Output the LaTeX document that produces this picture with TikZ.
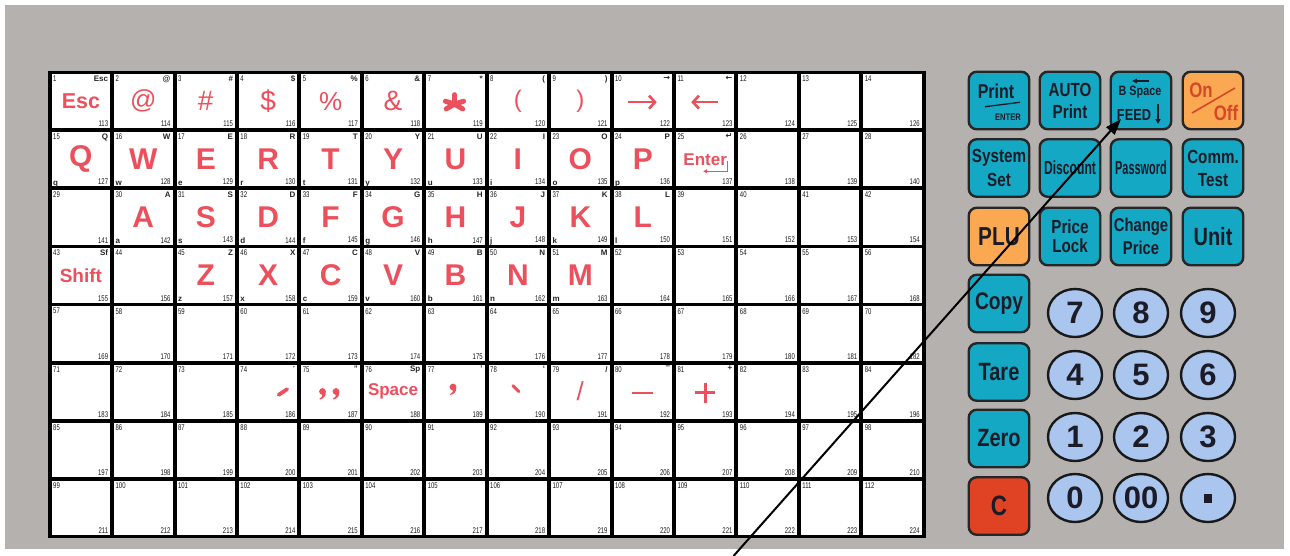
\documentclass[tikz,border=0pt]{standalone}
\usepackage{fontspec}
\usepackage{graphicx}
\setmainfont{Liberation Sans}
\newfontfamily\numf{Liberation Sans}[FakeStretch=0.72]
\newfontfamily\keyf{Liberation Sans}[FakeStretch=0.8]
\newfontfamily\dvs{DejaVu Sans}
\usetikzlibrary{arrows.meta,shapes.geometric}
\definecolor{panel}{RGB}{181,177,174}
\definecolor{kteal}{RGB}{20,168,196}
\definecolor{korange}{RGB}{250,168,82}
\definecolor{kred}{RGB}{224,66,36}
\definecolor{kblue}{RGB}{170,198,238}
\definecolor{lred}{RGB}{236,80,92}
\definecolor{ink}{RGB}{28,28,40}
\definecolor{onred}{RGB}{215,70,40}
\newcommand\kcell[4]{%
 \node[labtxt,anchor=north east] (t#1) at ([shift={(-2,1.8)}]c#1.north east) {#2};
 \node[labtxt,anchor=base west] (l#1) at ([shift={(1.5,-1.5)}]c#1.south west) {#3};
 \node[bigtxt] (b#1) at (c#1) {#4};}
\newcommand\redcomma[2]{%
 \fill[lred] (#1,#2) circle (3.4);
 \fill[lred] (#1+3.3,#2+0.5) .. controls (#1+3.5,#2+5) and (#1+1,#2+7) .. (#1-2.6,#2+8) -- (#1-2.9,#2+7) .. controls (#1-0.5,#2+5.8) and (#1+0.2,#2+4.6) .. (#1-0.2,#2+3.3) -- cycle;}
\begin{document}
\begin{tikzpicture}[x=1pt,y=-1pt,
 cellbox/.style={fill=white,draw=none,minimum width=58.4pt,minimum height=54.3pt,inner sep=0pt},
 numtxt/.style={font=\numf\fontsize{8.3}{8.3}\selectfont,text=black!90,inner sep=0pt},
 labtxt/.style={font=\bfseries\fontsize{8}{8}\selectfont,text=black!85,inner sep=0pt},
 bigtxt/.style={font=\bfseries\fontsize{30}{30}\selectfont,text=lred,inner sep=0pt},
 keybox/.style={draw=black!85,line width=2.4pt,rounded corners=8pt,fill=kteal,minimum width=60.5pt,minimum height=57.5pt,inner sep=0pt,align=center,text=ink,font=\keyf\bfseries\fontsize{19}{22}\selectfont},
 keytxt/.style={inner sep=0pt,text=ink},
 numkey/.style={ellipse,draw=black!90,line width=2.4pt,fill=kblue,minimum width=54pt,minimum height=48pt,inner sep=0pt,text=ink,font=\bfseries\fontsize{31}{31}\selectfont}]
\useasboundingbox (0,0) rectangle (1290,555);
\fill[white] (0,0) rectangle (1290,555);
\fill[panel] (5,5) rectangle (1284,549);
\fill[black] (47.8,70.5) rectangle (925.5,538.3);
\foreach \r in {0,...,7}{\foreach \c in {0,...,13}{
 \pgfmathtruncatemacro\n{14*\r+\c+1}
 \pgfmathtruncatemacro\m{\n+112}
 \node[cellbox] (c\n) at ({80.9+62.43*\c},{101.15+58.1*\r}) {};
 \node[numtxt,anchor=north west] (n\n) at ([shift={(1.5,1.8)}]c\n.north west) {\n};
 \node[numtxt,anchor=south east] (m\n) at ([shift={(-2,-1.5)}]c\n.south east) {\m};
}}
% row 1
\kcell{1}{Esc}{}{\fontsize{21.5}{21.5}\selectfont Esc}
\kcell{2}{@}{}{\mdseries\fontsize{26}{26}\selectfont @}
\kcell{3}{\#}{}{\mdseries\fontsize{28}{28}\selectfont \#}
\kcell{4}{\$}{}{\mdseries\fontsize{28}{28}\selectfont \$}
\kcell{5}{\%}{}{\mdseries\fontsize{26}{26}\selectfont \%}
\kcell{6}{\&}{}{\mdseries\fontsize{28}{28}\selectfont \&}
\kcell{7}{*}{}{}
\coordinate (astc) at ([shift={(-1,3)}]c7.center);
\foreach \a in {-90,-18,-162,30,150}{
 \draw[lred,line width=5pt,line cap=round] (astc) -- ++(\a:9.5);}
\kcell{8}{(}{}{\mdseries\fontsize{24}{24}\selectfont (}
\kcell{9}{)}{}{\mdseries\fontsize{24}{24}\selectfont )}
\kcell{10}{\dvs →}{}{}
\kcell{11}{\dvs ←}{}{}
\draw[lred,line width=2.6pt,-{Straight Barb[length=6pt,width=13pt]}] ([shift={(-15,1)}]c10.center) -- ([shift={(14,1)}]c10.center);
\draw[lred,line width=2.6pt,-{Straight Barb[length=6pt,width=13pt]}] ([shift={(13,1)}]c11.center) -- ([shift={(-14,1)}]c11.center);
% row 2
\kcell{15}{Q}{q}{Q}
\kcell{16}{W}{w}{W}
\kcell{17}{E}{e}{E}
\kcell{18}{R}{r}{R}
\kcell{19}{T}{t}{T}
\kcell{20}{Y}{y}{Y}
\kcell{21}{U}{u}{U}
\kcell{22}{I}{i}{I}
\kcell{23}{O}{o}{O}
\kcell{24}{P}{p}{P}
\kcell{25}{\dvs ↵}{}{\fontsize{17}{17}\selectfont Enter}
\draw[lred,line width=1.2pt,-{Triangle[length=4pt,width=4pt]}] ([shift={(22,2)}]c25.center) -- ([shift={(22,12)}]c25.center) -- ([shift={(-2,12)}]c25.center);
% row 3
\kcell{30}{A}{a}{A}
\kcell{31}{S}{s}{S}
\kcell{32}{D}{d}{D}
\kcell{33}{F}{f}{F}
\kcell{34}{G}{g}{G}
\kcell{35}{H}{h}{H}
\kcell{36}{J}{j}{J}
\kcell{37}{K}{k}{K}
\kcell{38}{L}{l}{L}
% row 4
\kcell{43}{Sf}{}{\fontsize{19}{19}\selectfont Shift}
\kcell{45}{Z}{z}{Z}
\kcell{46}{X}{x}{X}
\kcell{47}{C}{c}{C}
\kcell{48}{V}{v}{V}
\kcell{49}{B}{b}{B}
\kcell{50}{N}{n}{N}
\kcell{51}{M}{m}{M}
% row 6
\kcell{74}{´}{}{}
\kcell{75}{”}{}{}
\kcell{76}{Sp}{}{\fontsize{17}{17}\selectfont Space}
\kcell{77}{’}{}{}
\kcell{78}{\char"60}{}{}
\kcell{79}{/}{}{\mdseries\fontsize{26}{26}\selectfont /}
\kcell{80}{–}{}{}
\kcell{81}{+}{}{}
\draw[lred,line width=3.8pt,line cap=round] ([shift={(10.5,3.2)}]c74.center) -- ([shift={(19,-2.5)}]c74.center);
\redcomma{322.5}{391.5}
\redcomma{336}{391.5}
\redcomma{453}{387}
\draw[lred,line width=3pt,line cap=round] ([shift={(-5,-6)}]c78.center) -- ([shift={(1,0)}]c78.center);
\draw[lred,line width=2.6pt] ([shift={(-11,1.5)}]c80.center) -- ([shift={(10,1.5)}]c80.center);
\draw[lred,line width=3pt] ([shift={(-10,1)}]c81.center) -- ([shift={(10,1)}]c81.center) ([shift={(0,-9)}]c81.center) -- ([shift={(0,11)}]c81.center);
% right keys row 1
\node[keybox] (kprint) at (999,100.5) {};
\node[keytxt,font=\keyf\bfseries\fontsize{20}{20}\selectfont] (tprint) at ([shift={(-3,-9.5)}]kprint.center) {Print};
\draw[ink,line width=1.3pt] ([shift={(-14,6.2)}]kprint.center) -- ([shift={(21,1.8)}]kprint.center);
\node[keytxt,font=\keyf\bfseries\fontsize{9.5}{9.5}\selectfont] (tenter) at ([shift={(9,17)}]kprint.center) {ENTER};
\node[keybox] (kauto) at (1070,100.5) {AUTO\\Print};
\node[keybox] (kbs) at (1141,100.5) {};
\node[keytxt,anchor=base,font=\keyf\bfseries\fontsize{13.5}{13.5}\selectfont] (tbs) at ([shift={(-1,-5.5)}]kbs.center) {B Space};
\node[keytxt,anchor=base,font=\keyf\bfseries\fontsize{16}{16}\selectfont] (tfeed) at ([shift={(-7,19.5)}]kbs.center) {FEED};
\draw[ink,line width=1.8pt,-{Triangle[length=5pt,width=5pt]}] ([shift={(17,3.5)}]kbs.center) -- ([shift={(17,23.5)}]kbs.center);
\draw[ink,line width=1.2pt,-{Triangle[length=5pt,width=4.5pt]}] ([shift={(8,-19.5)}]kbs.center) -- ([shift={(-9,-19.5)}]kbs.center);
\node[keybox,fill=korange] (konoff) at (1213,100.5) {};
\node[keytxt,text=onred,font=\keyf\bfseries\fontsize{21}{21}\selectfont] (ton) at ([shift={(-12,-10.5)}]konoff.center) {On};
\node[keytxt,text=onred,font=\keyf\bfseries\fontsize{21}{21}\selectfont] (toff) at ([shift={(13,12)}]konoff.center) {Off};
\draw[onred,line width=1.6pt] ([shift={(-21,12.5)}]konoff.center) -- ([shift={(22,-12.5)}]konoff.center);
% row 2
\node[keybox,font=\keyf\bfseries\fontsize{19}{24}\selectfont] (ksys) at (999,168) {System\\Set};
\node[keybox] (kdisc) at (1070,168) {\scalebox{0.8}[1]{Discount}};
\node[keybox] (kpass) at (1141,168) {\scalebox{0.72}[1]{Password}};
\node[keybox,font=\keyf\bfseries\fontsize{19}{23}\selectfont] (kcomm) at (1213,168) {Comm.\\Test};
% row 3
\node[keybox,fill=korange,font=\keyf\bfseries\fontsize{26}{26}\selectfont] (kplu) at (999,236.5) {PLU};
\node[keybox,font=\keyf\bfseries\fontsize{19}{19}\selectfont] (kplock) at (1070,236.5) {Price\\Lock};
\node[keybox,font=\keyf\bfseries\fontsize{18.5}{23}\selectfont] (kchg) at (1141,236.5) {Change\\Price};
\node[keybox,font=\keyf\bfseries\fontsize{25}{25}\selectfont] (kunit) at (1213,236.5) {Unit};
% left column
\node[keybox,font=\keyf\bfseries\fontsize{24}{24}\selectfont] (kcopy) at (999,303.5) {Copy};
\node[keybox,font=\keyf\bfseries\fontsize{25}{25}\selectfont] (ktare) at (999,372) {Tare};
\node[keybox,font=\keyf\bfseries\fontsize{25}{25}\selectfont] (kzero) at (999,438.5) {Zero};
\node[keybox,fill=kred,font=\keyf\bfseries\fontsize{28}{28}\selectfont] (kc) at (999,506) {C};
% digits
\node[numkey] (d7) at (1075,313) {7};
\node[numkey] (d8) at (1141,313) {8};
\node[numkey] (d9) at (1208,313) {9};
\node[numkey] (d4) at (1075,375) {4};
\node[numkey] (d5) at (1141,375) {5};
\node[numkey] (d6) at (1208,375) {6};
\node[numkey] (d1) at (1075,437) {1};
\node[numkey] (d2) at (1141,437) {2};
\node[numkey] (d3) at (1208,437) {3};
\node[numkey] (d0) at (1075,498) {0};
\node[numkey] (d00) at (1141,498) {00};
\node[numkey] (ddot) at (1208,498) {\rule{8pt}{9pt}};
% pointer arrow
\coordinate (afoot) at (733.5,556);
\draw[black,line width=2pt,-{Triangle[length=16pt,width=11pt]}] (afoot) -- ([shift={(-20,18.5)}]kbs.center);
\end{tikzpicture}
\end{document}
